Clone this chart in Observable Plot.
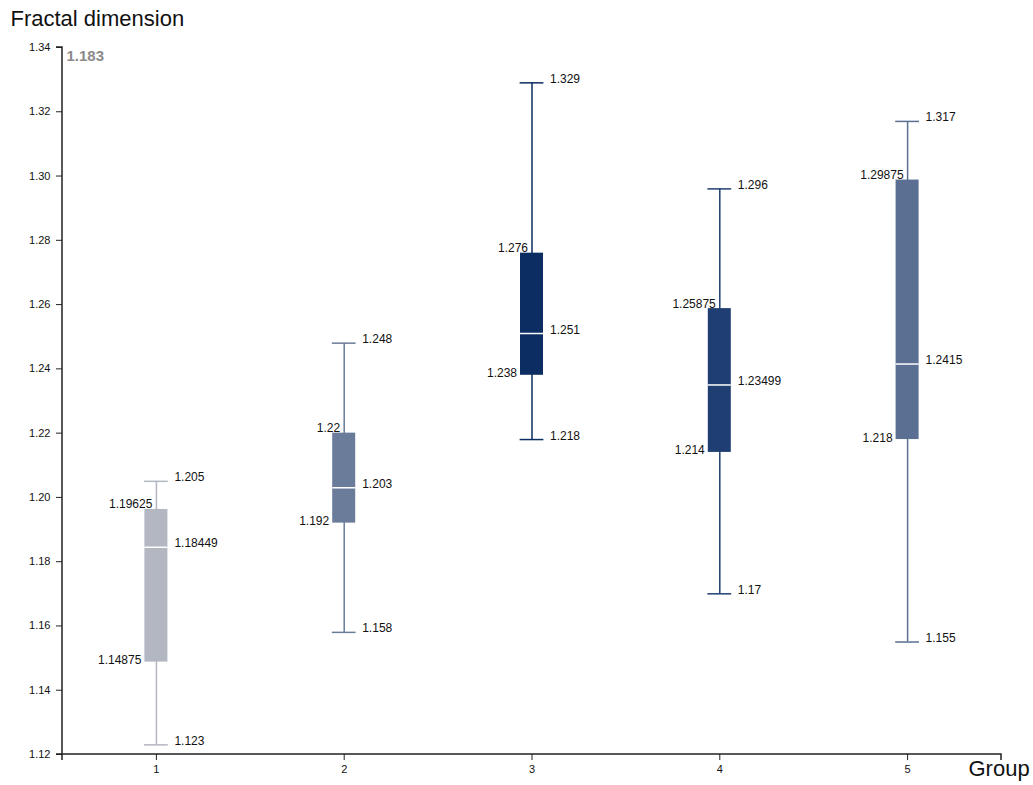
<!DOCTYPE html>
<html>
<head>
<meta charset="utf-8">
<script src="https://cdn.jsdelivr.net/npm/d3@7"></script>
<script src="https://cdn.jsdelivr.net/npm/@observablehq/plot@0.6"></script>
<style>
  html, body { margin: 0; padding: 0; background: #fff; }
  #chart svg { display: block; }
</style>
</head>
<body>
<div id="chart"></div>
<script>
// Box summary per group
const groups = ["1", "2", "3", "4", "5"];
const whiskerLow = [1.123, 1.158, 1.218, 1.17, 1.155];
const q1 = [1.14875, 1.192, 1.238, 1.214, 1.218];
const median = [1.18449, 1.203, 1.251, 1.23499, 1.2415];
const q3 = [1.19625, 1.22, 1.276, 1.25875, 1.29875];
const whiskerHigh = [1.205, 1.248, 1.329, 1.296, 1.317];
const groupColors = ["#b3b7c1", "#6a7c9a", "#0b2d62", "#1f3f72", "#5a6f91"];

const yTicks = [1.12, 1.14, 1.16, 1.18, 1.20, 1.22, 1.24, 1.26, 1.28, 1.30, 1.32, 1.34];
const yTitle = "Fractal dimension";
const xTitle = "Group";
const note = "1.183";

const rows = groups.map((g, i) => ({
  group: g,
  low: whiskerLow[i],
  q1: q1[i],
  median: median[i],
  q3: q3[i],
  high: whiskerHigh[i]
}));

const font = "'Liberation Sans', Arial, Helvetica, sans-serif";
const boxInset = 82.4;
const capInset = 82;

// d3-style axis domain paths with outer ticks
function axisDomains(index, scales, values, dims) {
  const x1 = dims.marginLeft, x2 = dims.width - dims.marginRight;
  const y1 = dims.marginTop, y2 = dims.height - dims.marginBottom;
  const g = d3.create("svg:g").attr("fill", "none").attr("stroke", "#222").attr("stroke-width", 1.5);
  g.append("path").attr("d", `M${x1},${y2 + 6}V${y2}H${x2}V${y2 + 6}`);
  g.append("path").attr("d", `M${x1 - 6},${y1}H${x1}V${y2}H${x1 - 6}`);
  return g.node();
}

const chart = Plot.plot({
  width: 1033,
  height: 785,
  marginTop: 47,
  marginLeft: 62,
  marginRight: 32,
  marginBottom: 31,
  style: { fontFamily: font, fontSize: "11px", background: "#fff", color: "#111", overflow: "visible" },
  x: { type: "band", domain: groups, padding: 0, round: false, label: null },
  y: { domain: [1.12, 1.34], label: null },
  color: { domain: groups, range: groupColors },
  marks: [
    Plot.axisY({ ticks: yTicks, tickFormat: d3.format(".2f"), tickSize: 6, tickPadding: 6, label: null, stroke: "#222", fill: "#111", fontSize: 11 }),
    Plot.axisX({ tickSize: 6, tickPadding: 5, label: null, stroke: "#222", fill: "#111", fontSize: 11 }),
    axisDomains,
    // whiskers
    Plot.ruleX(rows, { x: "group", y1: "low", y2: "high", stroke: "group", strokeWidth: 1.5 }),
    Plot.tickY(rows, { x: "group", y: "low", stroke: "group", strokeWidth: 1.5, insetLeft: capInset, insetRight: capInset }),
    Plot.tickY(rows, { x: "group", y: "high", stroke: "group", strokeWidth: 1.5, insetLeft: capInset, insetRight: capInset }),
    // boxes
    Plot.barY(rows, { x: "group", y1: "q1", y2: "q3", fill: "group", insetLeft: boxInset, insetRight: boxInset }),
    Plot.tickY(rows, { x: "group", y: "median", stroke: "#fff", strokeWidth: 1.5, insetLeft: boxInset, insetRight: boxInset }),
    // value labels
    Plot.text(rows, { x: "group", y: "high", text: d => String(d.high), textAnchor: "start", lineAnchor: "bottom", dx: 18, fontSize: 12, fill: "#111" }),
    Plot.text(rows, { x: "group", y: "low", text: d => String(d.low), textAnchor: "start", lineAnchor: "bottom", dx: 18, fontSize: 12, fill: "#111" }),
    Plot.text(rows, { x: "group", y: "median", text: d => String(d.median), textAnchor: "start", lineAnchor: "bottom", dx: 18, fontSize: 12, fill: "#111" }),
    Plot.text(rows, { x: "group", y: "q3", text: d => String(d.q3), textAnchor: "end", lineAnchor: "bottom", dx: -4, dy: -1, fontSize: 12, fill: "#111" }),
    Plot.text(rows, { x: "group", y: "q1", text: d => String(d.q1), textAnchor: "end", lineAnchor: "bottom", dx: -15, dy: 2, fontSize: 12, fill: "#111" }),
    // titles
    Plot.text([yTitle], { frameAnchor: "top-left", text: d => d, textAnchor: "start", lineAnchor: "bottom", dx: -52, dy: -22, fontSize: 22, fill: "#111" }),
    Plot.text([xTitle], { frameAnchor: "bottom-right", text: d => d, textAnchor: "start", lineAnchor: "bottom", dx: -33, dy: 21, fontSize: 22, fill: "#111" }),
    Plot.text([note], { frameAnchor: "top-left", text: d => d, textAnchor: "start", lineAnchor: "bottom", dx: 4, dy: 13, fontSize: 15, fontWeight: "bold", fill: "#8a8a8a" })
  ]
});

document.getElementById("chart").appendChild(chart);
</script>
</body>
</html>
